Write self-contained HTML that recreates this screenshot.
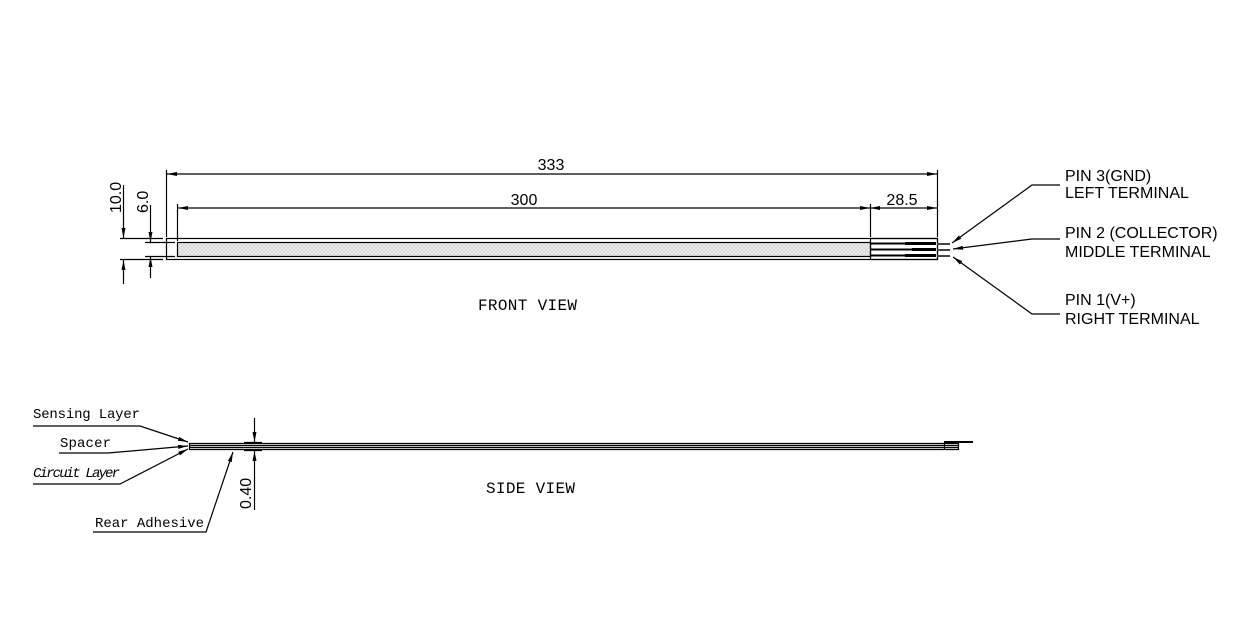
<!DOCTYPE html>
<html><head><meta charset="utf-8"><style>body{margin:0;background:#fff}svg{display:block}</style></head>
<body>
<svg width="1241" height="638" viewBox="0 0 1241 638" xmlns="http://www.w3.org/2000/svg">
<defs>
<pattern id="h" width="4" height="4" patternUnits="userSpaceOnUse"><rect width="4" height="4" fill="#eee"/><path d="M0 0L4 4M4 0L0 4" stroke="#ccc" stroke-width="0.6"/></pattern>
<marker id="a" viewBox="0 0 10 4" refX="10" refY="2" markerWidth="11" markerHeight="4" orient="auto-start-reverse" markerUnits="userSpaceOnUse"><path d="M0 0L10 2L0 4z" fill="#000"/></marker>
</defs>
<g stroke="#000" stroke-width="1.2" fill="none">
<!-- front view -->
<rect x="166.5" y="238.5" width="771" height="21"/>
<rect x="177.5" y="242.5" width="693" height="14" fill="url(#h)"/>
<rect x="870.5" y="238.5" width="67" height="21"/>
<path d="M870 243.5H935M870 249.5H935M870 255.5H935" stroke-width="2"/>
<path d="M905 243.5H936M912 249.5H936M905 255.5H936" stroke-width="3"/>
<path d="M937 244H950M937 250H950M937 256H950" stroke="#444" stroke-width="2"/>
<!-- 333 -->
<path d="M166.5 170V237M937.5 170V237M177.5 204V241M870.5 204V237"/>
<path d="M167 174H937" marker-start="url(#a)" marker-end="url(#a)"/>
<path d="M178 208H870" marker-start="url(#a)" marker-end="url(#a)"/>
<path d="M870 208H937" marker-start="url(#a)" marker-end="url(#a)"/>
<!-- left dims -->
<path d="M120 238.5H163M120 259.5H163M145 242.5H175M145 256.5H175"/>
<path d="M123.5 185V238" marker-end="url(#a)"/><path d="M123.5 284V260" marker-end="url(#a)"/>
<path d="M150.5 205V242" marker-end="url(#a)"/><path d="M150.5 278V257" marker-end="url(#a)"/>
<!-- leaders -->
<path d="M1060 185H1032L952 243" marker-end="url(#a)"/>
<path d="M1060 239H1032L953 249" marker-end="url(#a)"/>
<path d="M1060 314H1032L953 257" marker-end="url(#a)"/>
<!-- side view -->
<path d="M189 443.5H959M189 445.5H959M189 447.5H959M189 449.5H959M189.5 443V450"/>
<path d="M944 442H973" stroke-width="2"/>
<path d="M944.5 442V450M958.5 442V450"/>
<path d="M254.5 418V442" marker-end="url(#a)"/><path d="M254.5 510V451" marker-end="url(#a)"/>
<path d="M244 442.5H262M244 450.5H262"/>
<path d="M33 426H140L188 442" marker-end="url(#a)"/>
<path d="M59 453H108L188 446" marker-end="url(#a)"/>
<path d="M33 484H120L188 449" marker-end="url(#a)"/>
<path d="M93 532H206L233 452" marker-end="url(#a)"/>
</g>
<g font-family="Liberation Sans, sans-serif" font-size="16" fill="#000">
<text x="551" y="170" text-anchor="middle">333</text>
<text x="524" y="205" text-anchor="middle">300</text>
<text x="902" y="205" text-anchor="middle">28.5</text>
<text transform="translate(121 213) rotate(-90)">10.0</text>
<text transform="translate(148 213) rotate(-90)">6.0</text>
<text x="1065" y="181">PIN 3(GND)</text>
<text x="1065" y="198">LEFT TERMINAL</text>
<text x="1065" y="238">PIN 2 (COLLECTOR)</text>
<text x="1065" y="257">MIDDLE TERMINAL</text>
<text x="1065" y="305">PIN 1(V+)</text>
<text x="1065" y="324">RIGHT TERMINAL</text>
<text transform="translate(251 509) rotate(-90)">0.40</text>
</g>
<g font-family="Liberation Mono, monospace" font-size="14" fill="#000">
<text x="478" y="310" font-size="16" textLength="99">FRONT VIEW</text>
<text x="486" y="493" font-size="16" textLength="89">SIDE VIEW</text>
<text x="33" y="418" textLength="107">Sensing Layer</text>
<text x="60" y="447" textLength="51">Spacer</text>
<text x="33" y="477" font-style="italic" textLength="87">Circuit Layer</text>
<text x="95" y="527" textLength="109">Rear Adhesive</text>
</g>
</svg>
</body></html>
